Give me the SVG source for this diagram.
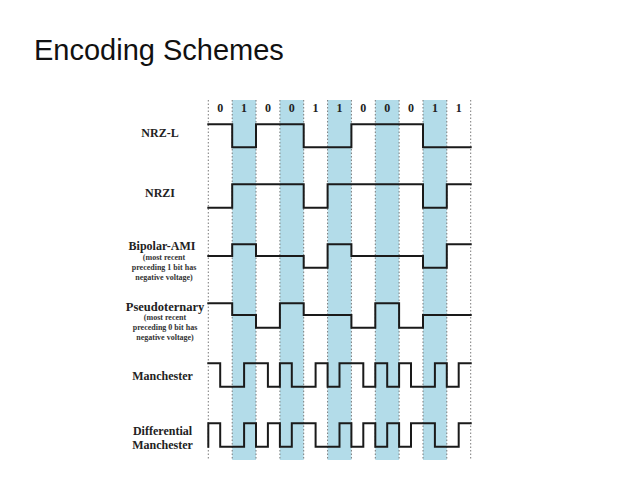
<svg xmlns="http://www.w3.org/2000/svg" width="638" height="478" viewBox="0 0 638 478">
<style>
.title{font-family:"Liberation Sans",Arial,sans-serif;font-size:29px;fill:#111}
.lbl{font-family:"Liberation Serif","Times New Roman",serif;font-weight:bold;font-size:12px;fill:#222;text-anchor:middle}
.sub{font-family:"Liberation Serif","Times New Roman",serif;font-weight:bold;font-size:8px;fill:#333;text-anchor:middle}
.bit{font-family:"Liberation Serif","Times New Roman",serif;font-weight:bold;font-size:12px;fill:#222;text-anchor:middle}
.shade{fill:#b3dce9}
.grid{stroke:#7a7a7a;stroke-width:1;stroke-dasharray:1.5 2;fill:none}
.sig{stroke:#1a1a1a;stroke-width:2;fill:none;stroke-linejoin:miter;stroke-linecap:square}
</style>
<rect width="638" height="478" fill="#fff"/>
<text class="title" x="34" y="60">Encoding Schemes</text>
<g id="shading">
<rect class="shade" x="232.2" y="100" width="23.8" height="360"/>
<rect class="shade" x="279.9" y="100" width="23.8" height="360"/>
<rect class="shade" x="327.6" y="100" width="23.8" height="360"/>
<rect class="shade" x="375.3" y="100" width="23.8" height="360"/>
<rect class="shade" x="423.0" y="100" width="23.8" height="360"/>
</g>
<g id="grid">
<path class="grid" d="M208.3,100V460M232.2,100V460M256.0,100V460M279.9,100V460M303.7,100V460M327.6,100V460M351.4,100V460M375.3,100V460M399.1,100V460M423.0,100V460M446.8,100V460M470.7,100V460"/>
</g>
<g id="bits">
<text class="bit" x="220.2" y="112">0</text>
<text class="bit" x="244.1" y="112">1</text>
<text class="bit" x="267.9" y="112">0</text>
<text class="bit" x="291.8" y="112">0</text>
<text class="bit" x="315.6" y="112">1</text>
<text class="bit" x="339.5" y="112">1</text>
<text class="bit" x="363.3" y="112">0</text>
<text class="bit" x="387.2" y="112">0</text>
<text class="bit" x="411.0" y="112">0</text>
<text class="bit" x="434.9" y="112">1</text>
<text class="bit" x="458.7" y="112">1</text>
</g>
<g id="nrzl">
<text class="lbl" x="160" y="137">NRZ-L</text>
<path class="sig" d="M208.3,124.3H232.2V147.3H256.0V124.3H303.7V147.3H351.4V124.3H423.0V147.3H470.7"/>
</g>
<g id="nrzi">
<text class="lbl" x="160" y="197">NRZI</text>
<path class="sig" d="M208.3,207.7H232.2V184.3H303.7V207.7H327.6V184.3H423.0V207.7H446.8V184.3H470.7"/>
</g>
<g id="bipolar-ami">
<text class="lbl" x="162" y="250">Bipolar-AMI</text>
<text class="sub" x="164" y="259.5">(most recent</text>
<text class="sub" x="164" y="270">preceding 1 bit has</text>
<text class="sub" x="164" y="280">negative voltage)</text>
<path class="sig" d="M208.3,256H232.2V244.3H256.0V256H303.7V267.7H327.6V244.3H351.4V256H423.0V267.7H446.8V244.3H470.7"/>
</g>
<g id="pseudoternary">
<text class="lbl" x="165" y="311" style="font-size:12.5px">Pseudoternary</text>
<text class="sub" x="165" y="320">(most recent</text>
<text class="sub" x="165" y="330">preceding 0 bit has</text>
<text class="sub" x="165" y="340">negative voltage)</text>
<path class="sig" d="M208.3,303.3H232.2V315H256.0V327.7H279.9V303.3H303.7V315H351.4V327.7H375.3V303.3H399.1V327.7H423.0V315H470.7"/>
</g>
<g id="manchester">
<text class="lbl" x="162.5" y="380">Manchester</text>
<path class="sig" d="M208.3,363.3H220.2V386.7H244.1V363.3H267.9V386.7H279.9V363.3H291.8V386.7H315.6V363.3H327.6V386.7H339.5V363.3H363.3V386.7H375.3V363.3H387.2V386.7H399.1V363.3H411.0V386.7H434.9V363.3H446.8V386.7H458.7V363.3H470.7"/>
</g>
<g id="differential-manchester">
<text class="lbl" x="162.5" y="435">Differential</text>
<text class="lbl" x="162.5" y="449">Manchester</text>
<path class="sig" d="M208.3,446.7V423.3H220.2V446.7H244.1V423.3H256.0V446.7H267.9V423.3H279.9V446.7H291.8V423.3H315.6V446.7H339.5V423.3H351.4V446.7H363.3V423.3H375.3V446.7H387.2V423.3H399.1V446.7H411.0V423.3H434.9V446.7H458.7V423.3H470.7"/>
</g>
<g id="connectors"/>
</svg>
